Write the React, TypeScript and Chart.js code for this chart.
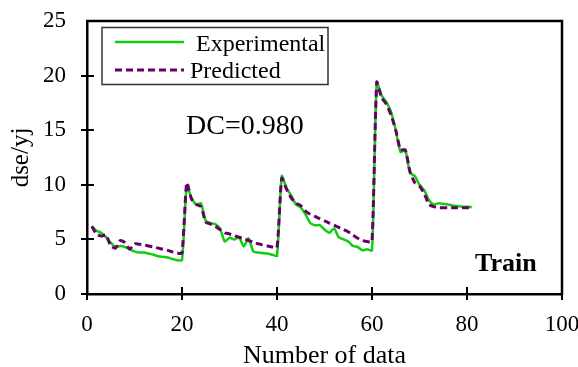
import React, { useEffect, useRef } from "react";
import { Chart, registerables } from "chart.js";

Chart.register(...registerables);

const seriesLabels = ["Experimental", "Predicted"];
const experimental = [
  6.2, 5.8, 5.6, 5.2, 4.7, 4.3, 4.4, 4.3, 4.1, 3.9,
  3.8, 3.8, 3.7, 3.6, 3.45, 3.4, 3.35, 3.2, 3.1, 3.1,
  9.9, 8.8, 8.2, 8.3, 6.7, 6.5, 6.4, 6.0, 4.8, 5.15,
  5.0, 5.2, 4.35, 5.1, 3.9, 3.8, 3.75, 3.7, 3.6, 3.5,
  10.8, 9.7, 9.0, 8.2, 7.9, 7.3, 6.5, 6.3, 6.3, 5.9,
  5.6, 6.0, 5.2, 5.0, 4.8, 4.4, 4.3, 4.0, 4.1, 4.0,
  19.4, 18.2, 17.6, 16.7, 15.0, 13.0, 13.2, 11.1, 10.8, 10.0,
  9.5, 8.6, 8.2, 8.3, 8.25, 8.2, 8.1, 8.05, 8.0, 8.0,
  7.95,
];
const predicted = [
  6.2, 5.5, 5.3, 5.4, 4.4, 4.2, 4.9, 4.7, 4.1, 4.6,
  4.55, 4.5, 4.4, 4.3, 4.2, 4.1, 4.0, 3.85, 3.75, 3.75,
  10.2, 8.7, 8.2, 8.0, 6.6, 6.4, 6.2, 5.9, 5.6, 5.5,
  5.35, 5.2, 5.05, 4.9, 4.75, 4.6, 4.5, 4.4, 4.3, 4.25,
  10.6, 9.6, 8.8, 8.3, 8.1, 7.6, 7.3, 7.1, 6.9, 6.7,
  6.5, 6.3, 6.1, 5.9, 5.7, 5.4, 5.1, 4.9, 4.8, 4.8,
  19.4, 18.0, 17.4, 16.4, 15.0, 13.2, 13.2, 11.2, 10.2, 9.9,
  9.2, 8.2, 8.0, 7.9, 7.9, 7.9, 7.9, 7.9, 7.9, 7.9,
  7.9,
];
const xTickValues = [0, 20, 40, 60, 80, 100];
const yTickValues = [0, 5, 10, 15, 20, 25];
const xTitle = "Number of data";
const yTitle = "dse/yj";
const dcText = "DC=0.980";
const cornerText = "Train";

const GREEN = "#11cc11";
const PURPLE = "#660066";
const SERIF = "'Liberation Serif', 'Times New Roman', serif";

const decorPlugin = {
  id: "decor",
  afterDatasetsDraw(chart: any) {
    const { ctx, chartArea: a, scales } = chart;
    ctx.save();
    ctx.strokeStyle = "#000";
    ctx.lineWidth = 2.5;
    ctx.beginPath();
    ctx.moveTo(a.left - 1, a.top);
    ctx.lineTo(a.right, a.top);
    ctx.lineTo(a.right, a.bottom + 1);
    ctx.stroke();
    // tick marks crossing the axes
    ctx.lineWidth = 2;
    ctx.beginPath();
    for (const v of yTickValues) {
      const y = Math.round(scales.y.getPixelForValue(v));
      if (v === 25) continue;
      ctx.moveTo(a.left - 6, y);
      ctx.lineTo(a.left + (v === 0 ? 0 : 7), y);
    }
    for (const v of xTickValues) {
      const x = Math.round(scales.x.getPixelForValue(v));
      ctx.moveTo(x, a.bottom + 6);
      ctx.lineTo(x, a.bottom - (v === 0 || v === 100 ? 0 : 7));
    }
    ctx.stroke();

    // legend box
    const bx = a.left + 15;
    const by = a.top + 6.5;
    const bw = 226;
    const bh = 57;
    ctx.fillStyle = "#fff";
    ctx.fillRect(bx, by, bw, bh);
    ctx.strokeStyle = "#333";
    ctx.lineWidth = 1.5;
    ctx.strokeRect(bx, by, bw, bh);
    const ds = chart.data.datasets;
    const rows = [
      { y: by + 14.5, textX: bx + 94, base: by + 23 },
      { y: by + 42.5, textX: bx + 88, base: by + 50 },
    ];
    ds.forEach((d: any, i: number) => {
      const r = rows[i];
      ctx.strokeStyle = d.borderColor;
      ctx.lineWidth = d.borderWidth;
      ctx.setLineDash(d.borderDash || []);
      ctx.beginPath();
      ctx.moveTo(bx + 13, r.y);
      ctx.lineTo(bx + 82, r.y);
      ctx.stroke();
      ctx.setLineDash([]);
      ctx.fillStyle = "#000";
      ctx.font = `24px ${SERIF}`;
      ctx.textAlign = "left";
      ctx.textBaseline = "alphabetic";
      ctx.fillText(d.label, r.textX, r.base);
    });

    // annotations
    ctx.fillStyle = "#000";
    ctx.font = `28px ${SERIF}`;
    ctx.fillText(dcText, a.left + 99, a.top + 112.5);
    ctx.font = `bold 26px ${SERIF}`;
    ctx.fillText(cornerText, a.left + 388, a.top + 250);
    ctx.restore();
  },
};

export default function App() {
  const ref = useRef<HTMLCanvasElement>(null);
  useEffect(() => {
    document.body.style.margin = "0";
    const canvas = ref.current!;
    const chart = new Chart(canvas, {
      type: "line",
      data: {
        datasets: [
          {
            label: seriesLabels[0],
            data: experimental.map((y, i) => ({ x: i + 1, y })),
            borderColor: GREEN,
            backgroundColor: GREEN,
            borderWidth: 2.5,
            pointRadius: 0,
            tension: 0.2,
            order: 2,
          },
          {
            label: seriesLabels[1],
            data: predicted.map((y, i) => ({ x: i + 1, y })),
            borderColor: PURPLE,
            backgroundColor: PURPLE,
            borderWidth: 3,
            borderDash: [7, 4],
            pointRadius: 0,
            tension: 0.2,
            order: 1,
          },
        ],
      },
      plugins: [decorPlugin],
      options: {
        animation: false,
        responsive: false,
        maintainAspectRatio: false,
        devicePixelRatio: 1,
        layout: { padding: { left: 0, right: 16, top: 21, bottom: 0 } },
        plugins: { legend: { display: false }, tooltip: { enabled: false } },
        scales: {
          x: {
            type: "linear",
            min: 0,
            max: 100,
            afterBuildTicks: (s: any) => {
              s.ticks = xTickValues.map((v) => ({ value: v }));
            },
            afterFit: (s: any) => {
              s.height = 73;
              s.paddingLeft = 0;
              s.paddingRight = 0;
            },
            ticks: {
              color: "#000",
              font: { family: SERIF, size: 23 },
              padding: 11,
              maxRotation: 0,
            },
            grid: {
              drawOnChartArea: false,
              drawTicks: true,
              tickLength: 6,
              tickWidth: 0,
              tickColor: "rgba(0,0,0,0)",
              color: "rgba(0,0,0,0)",
            },
            border: { display: true, color: "#000", width: 2.5 },
            title: {
              display: true,
              text: xTitle,
              color: "#000",
              font: { family: SERIF, size: 26, lineHeight: 0.85 },
              padding: { top: 0, bottom: 0 },
            },
          },
          y: {
            type: "linear",
            min: 0,
            max: 25,
            afterBuildTicks: (s: any) => {
              s.ticks = yTickValues.map((v) => ({ value: v }));
            },
            afterFit: (s: any) => {
              s.width = 87;
              s.paddingTop = 0;
              s.paddingBottom = 0;
            },
            ticks: {
              color: "#000",
              font: { family: SERIF, size: 23 },
              padding: 15,
            },
            grid: {
              drawOnChartArea: false,
              drawTicks: true,
              tickLength: 6,
              tickWidth: 0,
              tickColor: "rgba(0,0,0,0)",
              color: "rgba(0,0,0,0)",
            },
            border: { display: true, color: "#000", width: 2.5 },
            title: {
              display: true,
              text: yTitle,
              color: "#000",
              font: { family: SERIF, size: 25, lineHeight: 1 },
              padding: { top: 9, bottom: 0 },
            },
          },
        },
      },
    });
    return () => chart.destroy();
  }, []);
  return (
    <div style={{ width: 578, height: 367, position: "relative" }}>
      <canvas ref={ref} width={578} height={367} style={{ display: "block", width: 578, height: 367 }} />
    </div>
  );
}
